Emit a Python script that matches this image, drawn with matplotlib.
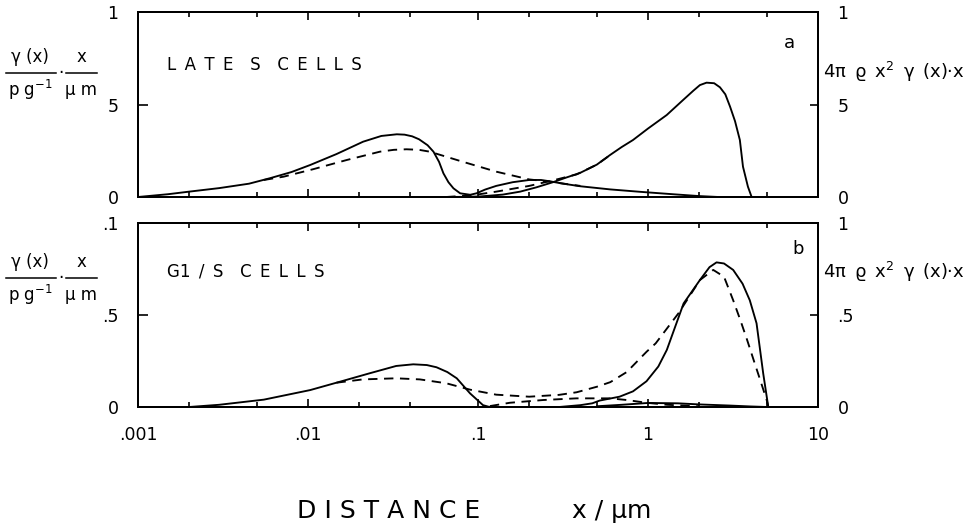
import matplotlib
matplotlib.use("Agg")
import matplotlib.pyplot as plt
from matplotlib.lines import Line2D

# ---------------- data (x in micrometres) ----------------
# Panel a: LATE S CELLS
a_solid_left_x = [0.001, 0.0015, 0.002, 0.003, 0.0045, 0.006, 0.008, 0.0103, 0.0147, 0.0211,
                  0.027, 0.0333, 0.037, 0.041, 0.045, 0.0505, 0.0547, 0.059, 0.0626, 0.067,
                  0.0717, 0.0785, 0.09, 0.098, 0.11, 0.128, 0.16, 0.2, 0.235, 0.264,
                  0.317, 0.4, 0.6, 0.9, 1.4, 2.0, 2.6]
a_solid_left_y = [0.0, 0.15, 0.29, 0.48, 0.72, 1.02, 1.35, 1.73, 2.32, 2.99,
                  3.3, 3.39, 3.37, 3.28, 3.12, 2.8, 2.45, 1.9, 1.28, 0.8,
                  0.47, 0.2, 0.12, 0.2, 0.4, 0.6, 0.8, 0.92, 0.92, 0.85,
                  0.72, 0.58, 0.41, 0.28, 0.15, 0.05, 0.0]
a_dash_left_x = [0.0055, 0.0072, 0.0107, 0.0169, 0.0265, 0.032, 0.038, 0.045, 0.052, 0.081,
                 0.128, 0.2, 0.264, 0.32, 0.4]
a_dash_left_y = [0.92, 1.1, 1.5, 2.0, 2.45, 2.55, 2.58, 2.55, 2.45, 1.91,
                 1.37, 0.95, 0.83, 0.72, 0.6]
a_solid_right_x = [0.068, 0.085, 0.103, 0.14, 0.177, 0.22, 0.276, 0.33, 0.398, 0.5,
                   0.598, 0.7, 0.816, 1.0, 1.288, 1.607, 1.85, 2.02, 2.21, 2.45,
                   2.65, 2.85, 3.04, 3.25, 3.47, 3.62, 3.87, 4.07]
a_solid_right_y = [0.0, 0.01, 0.03, 0.13, 0.29, 0.52, 0.8, 1.05, 1.3, 1.75,
                   2.27, 2.7, 3.08, 3.7, 4.43, 5.24, 5.75, 6.05, 6.18, 6.15,
                   5.93, 5.55, 4.88, 4.1, 3.08, 1.64, 0.56, 0.0]
a_dash_right_x = [0.065, 0.094, 0.128, 0.2, 0.277, 0.38, 0.5, 0.6]
a_dash_right_y = [0.0, 0.1, 0.29, 0.6, 0.9, 1.22, 1.75, 2.27]

# Panel b: G1/S CELLS
b_solid_left_x = [0.002, 0.003, 0.0055, 0.0103, 0.0147, 0.023, 0.033, 0.0416, 0.05, 0.057,
                  0.066, 0.075, 0.0898, 0.107, 0.117]
b_solid_left_y = [0.0, 0.012, 0.04, 0.092, 0.132, 0.183, 0.223, 0.232, 0.228, 0.216,
                  0.19, 0.156, 0.074, 0.01, 0.0]
b_dash_main_x = [0.0147, 0.021, 0.033, 0.0455, 0.065, 0.09, 0.128, 0.2, 0.3, 0.38,
                 0.5, 0.6, 0.75, 0.98, 1.11, 1.51, 2.02, 2.42, 2.8, 3.17,
                 3.5, 3.83, 4.2, 4.57, 4.99, 5.1]
b_dash_main_y = [0.132, 0.15, 0.156, 0.15, 0.129, 0.094, 0.067, 0.056, 0.066, 0.08,
                 0.11, 0.135, 0.19, 0.3, 0.346, 0.509, 0.69, 0.745, 0.708, 0.58,
                 0.47, 0.364, 0.25, 0.147, 0.038, 0.0]
b_solid_right_x = [0.3, 0.4, 0.47, 0.52, 0.68, 0.816, 0.98, 1.15, 1.29, 1.45,
                   1.62, 2.02, 2.3, 2.53, 2.8, 3.17, 3.6, 3.97, 4.35, 4.76, 5.1]
b_solid_right_y = [0.0, 0.01, 0.02, 0.035, 0.056, 0.085, 0.14, 0.22, 0.31, 0.44,
                   0.563, 0.69, 0.76, 0.786, 0.78, 0.745, 0.67, 0.58, 0.455, 0.183, 0.0]
b_dash_low_x = [0.1175, 0.154, 0.242, 0.38, 0.6, 0.75, 0.98, 1.3, 2.0]
b_dash_low_y = [0.005, 0.023, 0.038, 0.047, 0.047, 0.038, 0.023, 0.012, 0.004]
b_solid_low_x = [0.5, 0.7, 1.0, 1.5, 2.0, 3.0, 4.0, 5.0]
b_solid_low_y = [0.004, 0.012, 0.022, 0.02, 0.014, 0.008, 0.003, 0.0]

x_major = [0.001, 0.01, 0.1, 1, 10]
x_major_labels = [".001", ".01", ".1", "1", "10"]
x_minor = [0.002, 0.005, 0.02, 0.04, 0.2, 0.5, 2, 5]

a_yticks = [0, 5, 10]
a_left_labels = ["0", "5", "1"]
a_right_labels = ["0", "5", "1"]
b_yticks = [0, 0.5, 1.0]
b_left_labels = ["0", ".5", ".1"]
b_right_labels = ["0", ".5", "1"]

E = "\u2002"  # en space for letter-spaced lettering
panel_titles = [E.join("LATE") + E * 2 + "S" + E * 2 + E.join("CELLS"),
                "G1" + E + "/" + E + "S" + E * 2 + E.join("CELLS")]
panel_letters = ["a", "b"]
right_label = "4π" + E + "ϱ" + E + "x$^{2}$" + E + "γ" + E + "(x)·x"
xlabel_word = " ".join("DISTANCE")
xlabel_unit = "x / μm"

# ---------------- figure ----------------
W, H = 973, 527
fig = plt.figure(figsize=(W / 100, H / 100), dpi=100)
plt.rcParams['font.family'] = ['DejaVu Sans']

def fx(px):
    return px / W

def fy(py):
    return 1 - py / H

left, right = 138, 818
axA = fig.add_axes([fx(left), fy(197), fx(right - left), (197 - 12) / H])
axB = fig.add_axes([fx(left), fy(407), fx(right - left), (407 - 223) / H])

lw_curve = 1.35
dash = (5, 3.5)
tick_fs = 12.5

def style_axes(ax, yticks, ylim, left_labels, right_labels, show_x):
    ax.set_xscale('log')
    ax.set_xlim(0.001, 10)
    ax.set_ylim(*ylim)
    for s in ax.spines.values():
        s.set_linewidth(1.4)
    ax.set_xticks(x_major)
    ax.set_xticks(x_minor, minor=True)
    ax.set_xticklabels(x_major_labels if show_x else [""] * len(x_major))
    ax.xaxis.set_minor_formatter(plt.NullFormatter())
    ax.tick_params(axis='x', which='major', direction='in', length=5.8, width=1.2,
                   top=True, bottom=True, labelsize=tick_fs, pad=14)
    ax.tick_params(axis='x', which='minor', direction='in', length=3.8, width=1.2,
                   top=True, bottom=True)
    ax.set_yticks(yticks)
    ax.set_yticklabels(left_labels)
    ax.yaxis.set_minor_locator(plt.NullLocator())
    ax.tick_params(axis='y', direction='in', length=7, width=1.2, left=True, right=False,
                   labelsize=tick_fs, pad=14)
    ax2 = ax.twinx()
    ax2.set_ylim(*ylim)
    ax2.set_yticks(yticks)
    ax2.set_yticklabels(right_labels)
    ax2.tick_params(axis='y', direction='in', length=6, width=1.2, labelsize=tick_fs, pad=14)
    for s in ax2.spines.values():
        s.set_linewidth(1.4)
    return ax2

style_axes(axA, a_yticks, (0, 10), a_left_labels, a_right_labels, False)
style_axes(axB, b_yticks, (0, 1.0), b_left_labels, b_right_labels, True)

kw_s = dict(color='black', lw=lw_curve, solid_capstyle='round', solid_joinstyle='round')
kw_d = dict(color='black', lw=lw_curve, linestyle=(0, dash))

axA.plot(a_solid_left_x, a_solid_left_y, **kw_s)
axA.plot(a_dash_left_x, a_dash_left_y, **kw_d)
axA.plot(a_solid_right_x, a_solid_right_y, **kw_s)
axA.plot(a_dash_right_x, a_dash_right_y, **kw_d)

axB.plot(b_solid_left_x, b_solid_left_y, **kw_s)
axB.plot(b_dash_main_x, b_dash_main_y, **kw_d)
axB.plot(b_solid_right_x, b_solid_right_y, **kw_s)
axB.plot(b_dash_low_x, b_dash_low_y, **kw_d)
axB.plot(b_solid_low_x, b_solid_low_y, **kw_s)

# panel titles & letters
fig.text(fx(167), fy(65), panel_titles[0], fontsize=12, va='center', ha='left')
fig.text(fx(167), fy(271), panel_titles[1], fontsize=12, va='center', ha='left')
fig.text(fx(784), fy(43), panel_letters[0], fontsize=13, va='center', ha='left')
fig.text(fx(792), fy(249), panel_letters[1], fontsize=13, va='center', ha='left')

# left y-axis labels (fraction style)
def left_label(ycenter):
    fig.text(fx(30), fy(ycenter - 16), "γ (x)", fontsize=12, ha='center', va='center')
    fig.text(fx(30), fy(ycenter + 17), "p g$^{-1}$", fontsize=12, ha='center', va='center')
    fig.text(fx(81), fy(ycenter - 16), "x", fontsize=12, ha='center', va='center')
    fig.text(fx(81), fy(ycenter + 17), "μ m", fontsize=12, ha='center', va='center')
    fig.add_artist(Line2D([fx(6), fx(56)], [fy(ycenter), fy(ycenter)], color='black', lw=1.1))
    fig.add_artist(Line2D([fx(66), fx(97)], [fy(ycenter), fy(ycenter)], color='black', lw=1.1))
    fig.text(fx(60.5), fy(ycenter), "·", fontsize=12, ha='center', va='center')

left_label(73)
left_label(278)

# right y-axis labels
fig.text(fx(823), fy(72), right_label, fontsize=13, ha='left', va='center')
fig.text(fx(823), fy(272), right_label, fontsize=13, ha='left', va='center')

# x-axis label
fig.text(fx(297), fy(511), xlabel_word, fontsize=18, ha='left', va='center')
fig.text(fx(572), fy(511), xlabel_unit, fontsize=18, ha='left', va='center')

fig.savefig("out.png", dpi=100, facecolor='white')
